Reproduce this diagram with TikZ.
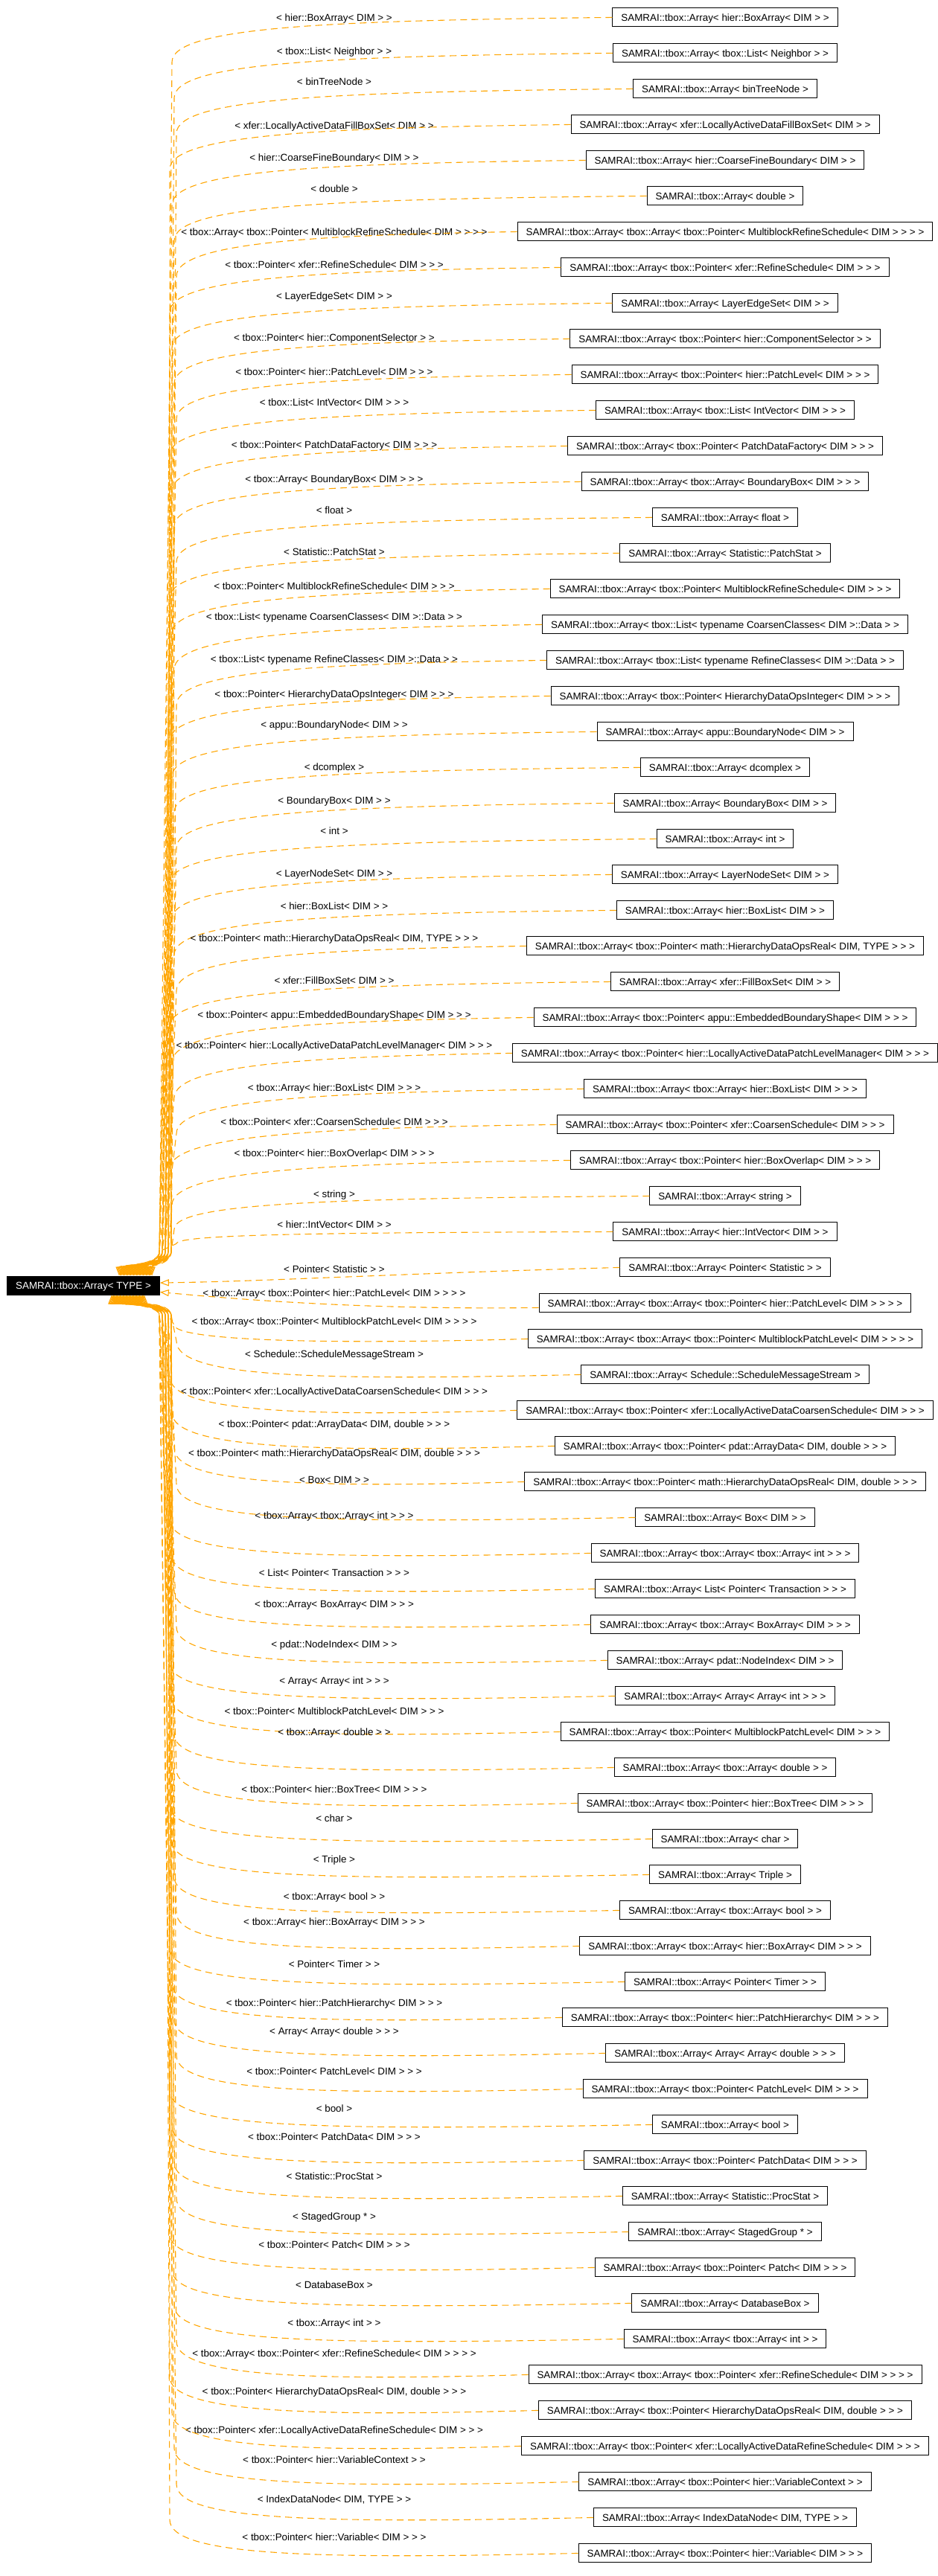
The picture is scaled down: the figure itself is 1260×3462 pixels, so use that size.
\documentclass[tikz,border=0pt]{standalone}
\usepackage{fontspec}
\setmainfont{Liberation Sans}[Ligatures=NoCommon]
\usetikzlibrary{arrows.meta}
\definecolor{instorange}{HTML}{FFA500}
\begin{document}
\begin{tikzpicture}[x=1pt, y=-1pt,
  every node/.style={font=\fontsize{13.4}{15}\selectfont, text height=9.6pt, text depth=0pt},
  clsbox/.style={draw=black, line width=1pt, fill=white, inner xsep=11.5pt, inner ysep=0pt, minimum height=25pt},
  basebox/.style={clsbox, fill=black, text=white},
  instlabel/.style={inner sep=0pt, text=black},
  instedge/.style={draw=instorange, line width=1.1pt, dash pattern=on 9pt off 6pt,
    -{Triangle[open, length=12pt, width=9pt, line width=1.1pt]}}
]
\useasboundingbox (0,0) rectangle (1260,3462);

% the class template
\node[basebox] (cn) at (112,1727.5) {SAMRAI::tbox::Array< TYPE >};

% instances drawn above the template
\foreach \ly/\nm [count=\idx] in {
  24/{hier::BoxArray< DIM >},
  69/{tbox::List< Neighbor >},
  110/{binTreeNode},
  168.3/{xfer::LocallyActiveDataFillBoxSet< DIM >},
  212/{hier::CoarseFineBoundary< DIM >},
  254/{double},
  312/{tbox::Array< tbox::Pointer< MultiblockRefineSchedule< DIM > > >},
  356/{tbox::Pointer< xfer::RefineSchedule< DIM > >},
  397.3/{LayerEdgeSet< DIM >},
  454/{tbox::Pointer< hier::ComponentSelector >},
  500/{tbox::Pointer< hier::PatchLevel< DIM > >},
  540.7/{tbox::List< IntVector< DIM > >},
  598/{tbox::Pointer< PatchDataFactory< DIM > >},
  643.7/{tbox::Array< BoundaryBox< DIM > >},
  685.3/{float},
  742/{Statistic::PatchStat},
  788/{tbox::Pointer< MultiblockRefineSchedule< DIM > >},
  829/{tbox::List< typename CoarsenClasses< DIM >::Data >},
  886/{tbox::List< typename RefineClasses< DIM >::Data >},
  932.3/{tbox::Pointer< HierarchyDataOpsInteger< DIM > >},
  973.3/{appu::BoundaryNode< DIM >},
  1030.3/{dcomplex},
  1076/{BoundaryBox< DIM >},
  1117/{int},
  1174/{LayerNodeSet< DIM >},
  1218/{hier::BoxList< DIM >},
  1261/{tbox::Pointer< math::HierarchyDataOpsReal< DIM, TYPE > >},
  1318/{xfer::FillBoxSet< DIM >},
  1364/{tbox::Pointer< appu::EmbeddedBoundaryShape< DIM > >},
  1405/{tbox::Pointer< hier::LocallyActiveDataPatchLevelManager< DIM > >},
  1462/{tbox::Array< hier::BoxList< DIM > >},
  1508/{tbox::Pointer< xfer::CoarsenSchedule< DIM > >},
  1549.7/{tbox::Pointer< hier::BoxOverlap< DIM > >},
  1605/{string},
  1646/{hier::IntVector< DIM >}} {
  \pgfmathsetmacro\yr{23.4+(\idx-1)*48}
  \pgfmathsetmacro\h{min(60,0.6*(1682-\yr))}
  \pgfmathsetmacro\xj{228+mod(\idx,4)*3}
  \pgfmathsetmacro\xk{214+mod(\idx,5)*4}
  \pgfmathsetmacro\xa{160+(\idx-1)*1.3}
  \node[clsbox] (c\idx) at (974,\yr) {SAMRAI::tbox::Array< {\nm} >};
  \node[instlabel] (l\idx) at (449,\ly) {< {\nm} >};
  \draw[instedge] (c\idx.west)
    .. controls ({450},{\yr+0.07*\h}) and ({\xj},{\yr+0.2*\h}) .. ({\xj},{\yr+\h})
    -- ({\xk},1682)
    .. controls ({\xk},1700) and ({\xa},1700) .. ({\xa},0 |- cn.north);
}

% the two instances level with the template
\node[clsbox] (c36) at (974,1703.4) {SAMRAI::tbox::Array< Pointer< Statistic > >};
\node[instlabel] (l36) at (449,1706) {< Pointer< Statistic > >};
\draw[instedge] (c36.west) .. controls (520,1712) and (360,1722) .. ([yshift=3.5pt]cn.east);

\node[clsbox] (c37) at (974,1751.4) {SAMRAI::tbox::Array< tbox::Array< tbox::Pointer< hier::PatchLevel< DIM > > > >};
\node[instlabel] (l37) at (449,1738) {< tbox::Array< tbox::Pointer< hier::PatchLevel< DIM > > > >};
\draw[instedge] ([yshift=-6pt]c37.west) .. controls (520,1760) and (360,1750) .. ([yshift=-9pt]cn.east);

% instances drawn below the template
\foreach \ly/\nm [count=\idx from 38] in {
  1776/{tbox::Array< tbox::Pointer< MultiblockPatchLevel< DIM > > >},
  1820/{Schedule::ScheduleMessageStream},
  1870/{tbox::Pointer< xfer::LocallyActiveDataCoarsenSchedule< DIM > >},
  1914/{tbox::Pointer< pdat::ArrayData< DIM, double > >},
  1952.7/{tbox::Pointer< math::HierarchyDataOpsReal< DIM, double > >},
  1988.3/{Box< DIM >},
  2036.5/{tbox::Array< tbox::Array< int > >},
  2114/{List< Pointer< Transaction > >},
  2156/{tbox::Array< BoxArray< DIM > >},
  2209.3/{pdat::NodeIndex< DIM >},
  2258.3/{Array< Array< int > >},
  2300/{tbox::Pointer< MultiblockPatchLevel< DIM > >},
  2328/{tbox::Array< double >},
  2405/{tbox::Pointer< hier::BoxTree< DIM > >},
  2444/{char},
  2498.3/{Triple},
  2548.3/{tbox::Array< bool >},
  2582.3/{tbox::Array< hier::BoxArray< DIM > >},
  2640/{Pointer< Timer >},
  2692/{tbox::Pointer< hier::PatchHierarchy< DIM > >},
  2730/{Array< Array< double > >},
  2784/{tbox::Pointer< PatchLevel< DIM > >},
  2834/{bool},
  2872/{tbox::Pointer< PatchData< DIM > >},
  2925/{Statistic::ProcStat},
  2978.3/{StagedGroup *},
  3017/{tbox::Pointer< Patch< DIM > >},
  3070.3/{DatabaseBox},
  3121.7/{tbox::Array< int >},
  3162.3/{tbox::Array< tbox::Pointer< xfer::RefineSchedule< DIM > > >},
  3214/{tbox::Pointer< HierarchyDataOpsReal< DIM, double > >},
  3266/{tbox::Pointer< xfer::LocallyActiveDataRefineSchedule< DIM > >},
  3306/{tbox::Pointer< hier::VariableContext >},
  3358.3/{IndexDataNode< DIM, TYPE >},
  3410/{tbox::Pointer< hier::Variable< DIM > >}} {
  \pgfmathsetmacro\yr{23.4+(\idx-1)*48}
  \pgfmathsetmacro\h{min(45,0.6*(\yr-1768))}
  \pgfmathsetmacro\xj{228+mod(\idx,4)*3}
  \pgfmathsetmacro\xk{214+mod(\idx,5)*4}
  \pgfmathsetmacro\xa{194-(\idx-38)*1.3}
  \node[clsbox] (c\idx) at (974,\yr) {SAMRAI::tbox::Array< {\nm} >};
  \node[instlabel] (l\idx) at (449,\ly) {< {\nm} >};
  \draw[instedge] (c\idx.west)
    .. controls ({430},{\yr+8}) and ({\xj},{\yr+0.1*\h}) .. ({\xj},{\yr-\h})
    -- ({\xk},1768)
    .. controls ({\xk},1752) and ({\xa},1752) .. ({\xa},0 |- cn.south);
}
\end{tikzpicture}
\end{document}
